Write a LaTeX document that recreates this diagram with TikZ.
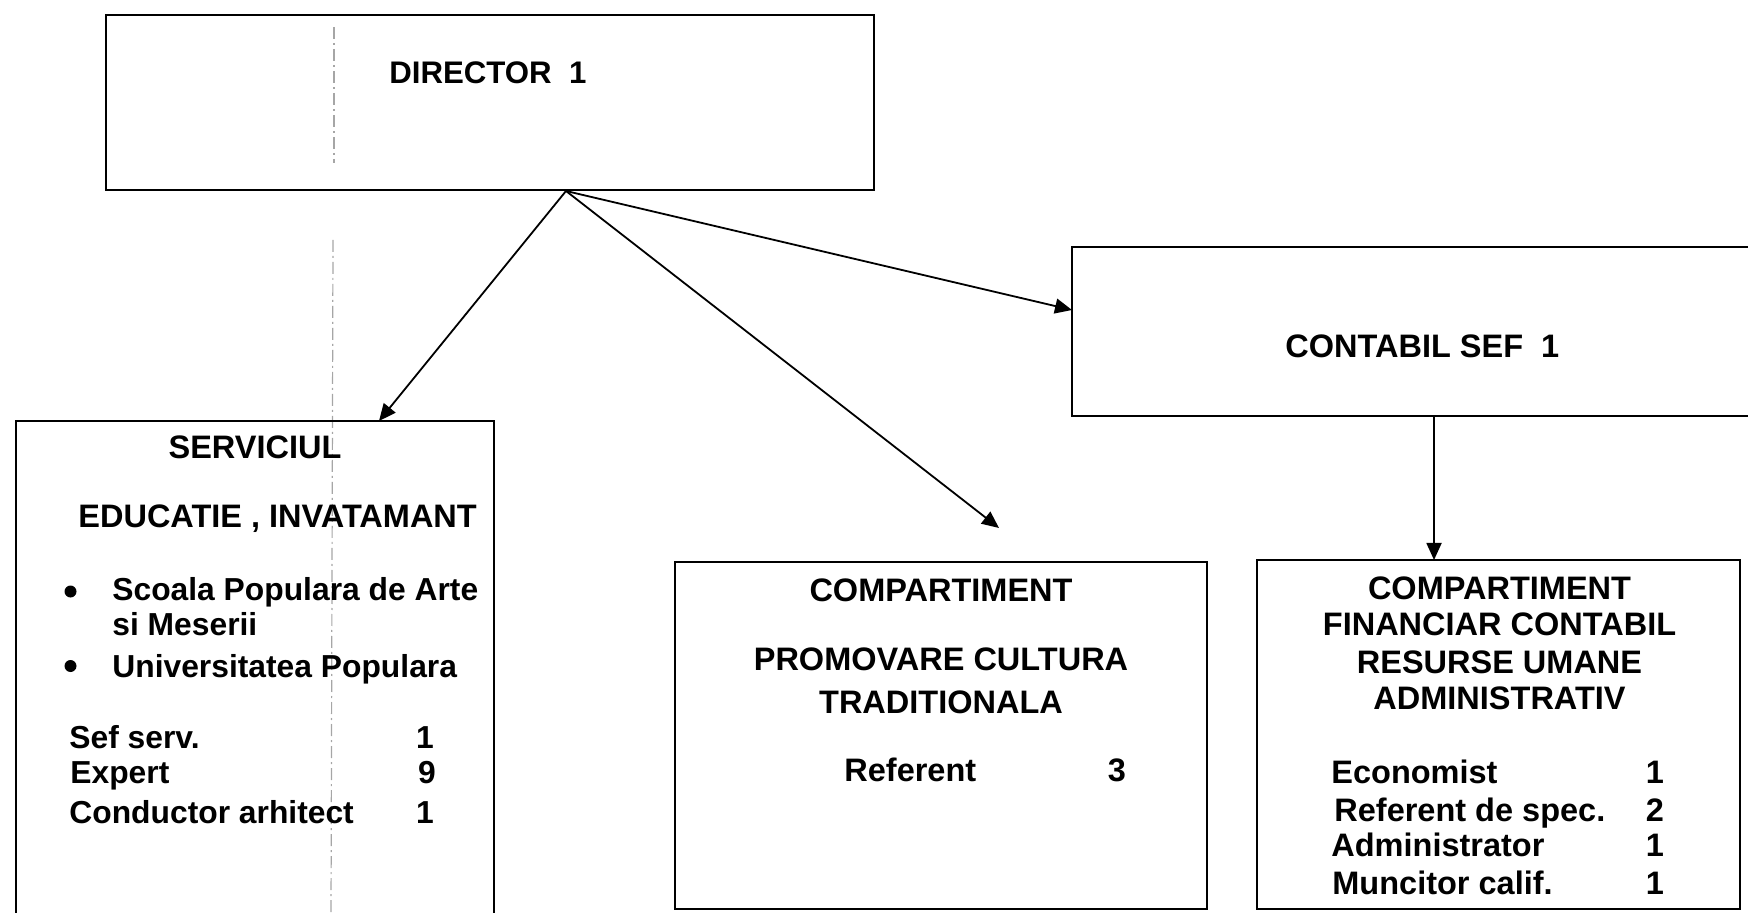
\documentclass[tikz,border=0pt]{standalone}
\usepackage{fontspec}
\setmainfont{Liberation Sans}
\usetikzlibrary{arrows.meta}
\begin{document}
\begin{tikzpicture}[x=0.5pt,y=-0.5pt,
  box/.style={draw, line width=1.1pt, inner sep=0pt, outer sep=0pt, rectangle},
  txt/.style={font=\bfseries\fontsize{16.25}{18}\selectfont, inner sep=0pt},
  lt/.style={txt, anchor=base west},
  ct/.style={txt, anchor=base},
  slt/.style={lt, font=\bfseries\fontsize{15.9}{18}\selectfont},
  sct/.style={ct, font=\bfseries\fontsize{15.9}{18}\selectfont},
  bul/.style={circle, fill=black, inner sep=0pt, minimum size=6pt},
  arr/.style={line width=0.9pt, -{Triangle[length=8.5pt,width=7.5pt]}},
  scanline/.style={gray!70, line width=0.6pt, dash pattern=on 6pt off 2pt on 1pt off 2pt}]
\path[use as bounding box] (0,0) rectangle (1748,913);
\clip (0,0) rectangle (1748,913);

% scan artefact line
\draw[scanline] (334,27) -- (334,163);
\draw[scanline] (333,240) -- (331,913);

% boxes
\node[box, minimum width=384pt, minimum height=87.5pt] (dir) at (490,102.5) {};
\node[box, minimum width=359pt, minimum height=84.5pt] (cs) at (1431,331.5) {};
\node[box, minimum width=239pt, minimum height=259.5pt] (serv) at (255,680.5) {};
\node[box, minimum width=266pt, minimum height=173.5pt] (prom) at (941,735.5) {};
\node[box, minimum width=241.5pt, minimum height=174.5pt] (fin) at (1498.5,734.5) {};

% connector end points
\coordinate (src) at (566,191);
\coordinate (servin) at (379,421);
\coordinate (promin) at (999,528);
\coordinate (csin) at (1072,310);
\coordinate (csout) at (1434,416);
\coordinate (finin) at (1434,560);

\draw[arr] (src) -- (servin);
\draw[arr] (src) -- (promin);
\draw[arr] (src) -- (csin);
\draw[arr] (csout) -- (finin);

% texts
\node[lt, font=\bfseries\fontsize{15.6}{18}\selectfont] (dirt) at (389,84) {DIRECTOR\ \ 1};
\node[lt] (cst) at (1285,358) {CONTABIL SEF\ \ 1};

\node[ct] (s1) at (255,459) {SERVICIUL};
\node[lt] (s2) at (78,528) {EDUCATIE , INVATAMANT};
\node[bul] (b1) at (70.5,591.5) {};
\node[slt] (s3) at (112,600) {Scoala Populara de Arte};
\node[slt] (s4) at (112,635) {si Meserii};
\node[bul] (b2) at (70.5,666) {};
\node[slt] (s5) at (112,677) {Universitatea Populara};
\node[slt] (s6) at (69,748) {Sef serv.};
\node[slt] (s7) at (70,783) {Expert};
\node[slt] (s8) at (69,823) {Conductor arhitect};
\node[sct] (n1) at (425,748) {1};
\node[sct] (n2) at (427,783) {9};
\node[sct] (n3) at (425,823) {1};

\node[ct] (p1) at (941,601.7) {COMPARTIMENT};
\node[ct] (p2) at (941,670) {PROMOVARE CULTURA};
\node[ct] (p3) at (941,713) {TRADITIONALA};
\node[lt] (p4) at (844,781.7) {Referent};
\node[ct] (p5) at (1117,781.7) {3};

\node[ct] (f1) at (1499.5,599) {COMPARTIMENT};
\node[ct] (f2) at (1499.5,635.4) {FINANCIAR CONTABIL};
\node[ct] (f3) at (1499.5,673) {RESURSE UMANE};
\node[ct] (f4) at (1499.5,709.6) {ADMINISTRATIV};
\node[lt] (f5) at (1331,783) {Economist};
\node[lt] (f6) at (1334,821) {Referent de spec.};
\node[lt] (f7) at (1331,856) {Administrator};
\node[lt] (f8) at (1332,894) {Muncitor calif.};
\node[ct] (m1) at (1655,783) {1};
\node[ct] (m2) at (1655,821) {2};
\node[ct] (m3) at (1655,856) {1};
\node[ct] (m4) at (1655,894) {1};
\end{tikzpicture}
\end{document}
